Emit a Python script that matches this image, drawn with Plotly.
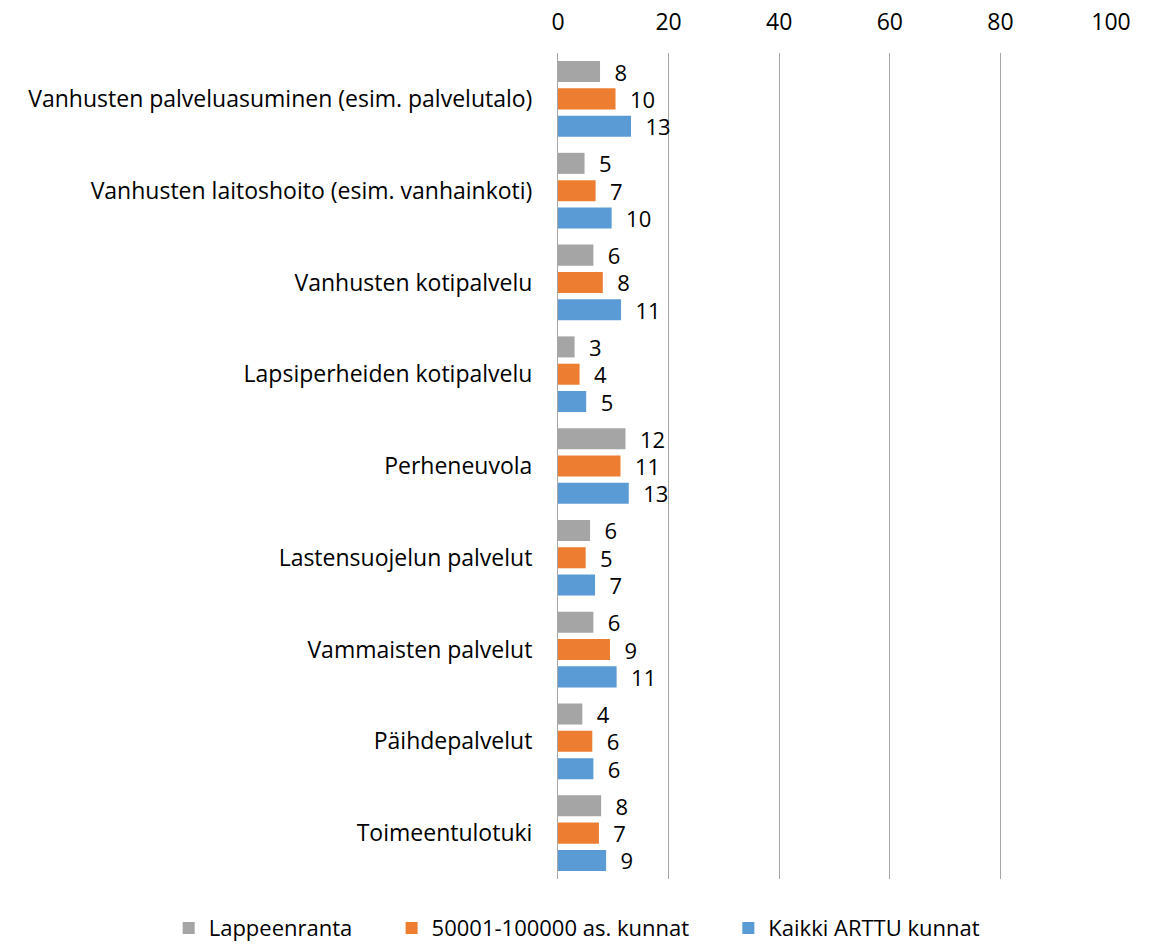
import plotly.graph_objects as go

categories = [
    "Vanhusten palveluasuminen (esim. palvelutalo)",
    "Vanhusten laitoshoito (esim. vanhainkoti)",
    "Vanhusten kotipalvelu",
    "Lapsiperheiden kotipalvelu",
    "Perheneuvola",
    "Lastensuojelun palvelut",
    "Vammaisten palvelut",
    "Päihdepalvelut",
    "Toimeentulotuki",
]
lappeenranta = [7.6, 4.8, 6.4, 3.0, 12.2, 5.8, 6.4, 4.4, 7.8]
kunnat_50001 = [10.4, 6.8, 8.1, 3.9, 11.3, 5.0, 9.4, 6.2, 7.4]
kaikki_arttu = [13.2, 9.7, 11.4, 5.1, 12.8, 6.7, 10.6, 6.4, 8.7]

series = [
    ("Lappeenranta", lappeenranta, "#A5A5A5"),
    ("50001-100000 as. kunnat", kunnat_50001, "#ED7D31"),
    ("Kaikki ARTTU kunnat", kaikki_arttu, "#5B9BD5"),
]
legend_pad = ["\u00a0" * 6, "\u00a0" * 6, ""]

FONT = "Open Sans"
FS = 23
fig = go.Figure()
for (name, vals, color), pad in zip(series, legend_pad):
    fig.add_trace(go.Bar(
        y=categories, x=vals, name=name + pad, orientation="h",
        marker=dict(color=color, line=dict(width=0)),
        texttemplate="\u00a0\u00a0%{x:.0f}", textposition="outside",
        constraintext="none",
        textfont=dict(size=22, color="#000000", family=FONT),
        cliponaxis=False,
    ))

fig.update_layout(
    width=1159, height=945,
    barmode="group", bargap=0.107, bargroupgap=0.23,
    plot_bgcolor="white", paper_bgcolor="white",
    font=dict(family=FONT, size=FS, color="#000000"),
    margin=dict(l=558, r=48, t=53, b=66, autoexpand=False),
    showlegend=True,
    legend=dict(orientation="h", xref="paper", yref="paper",
                x=-0.704, xanchor="left", y=-0.034, yanchor="top",
                font=dict(size=22, family=FONT), itemwidth=30,
                traceorder="normal"),
    xaxis=dict(side="top", range=[0, 100], dtick=20, showgrid=True,
               gridcolor="#A6A6A6", gridwidth=1, zeroline=False,
               showline=False, ticks="", ticklabelstandoff=17,
               automargin=False,
               tickfont=dict(size=FS, family=FONT)),
    yaxis=dict(autorange="reversed", showgrid=False, ticks="",
               showline=True, linecolor="#A6A6A6", linewidth=1,
               ticklabelstandoff=20, automargin=False,
               tickfont=dict(size=FS, family=FONT)),
)

fig.write_html("out.html", config={"displayModeBar": False})
with open("out.html", "r", encoding="utf-8") as f:
    html = f.read()
html = html.replace("<body>", '<body style="margin:0;padding:0;">', 1)
with open("out.html", "w", encoding="utf-8") as f:
    f.write(html)
